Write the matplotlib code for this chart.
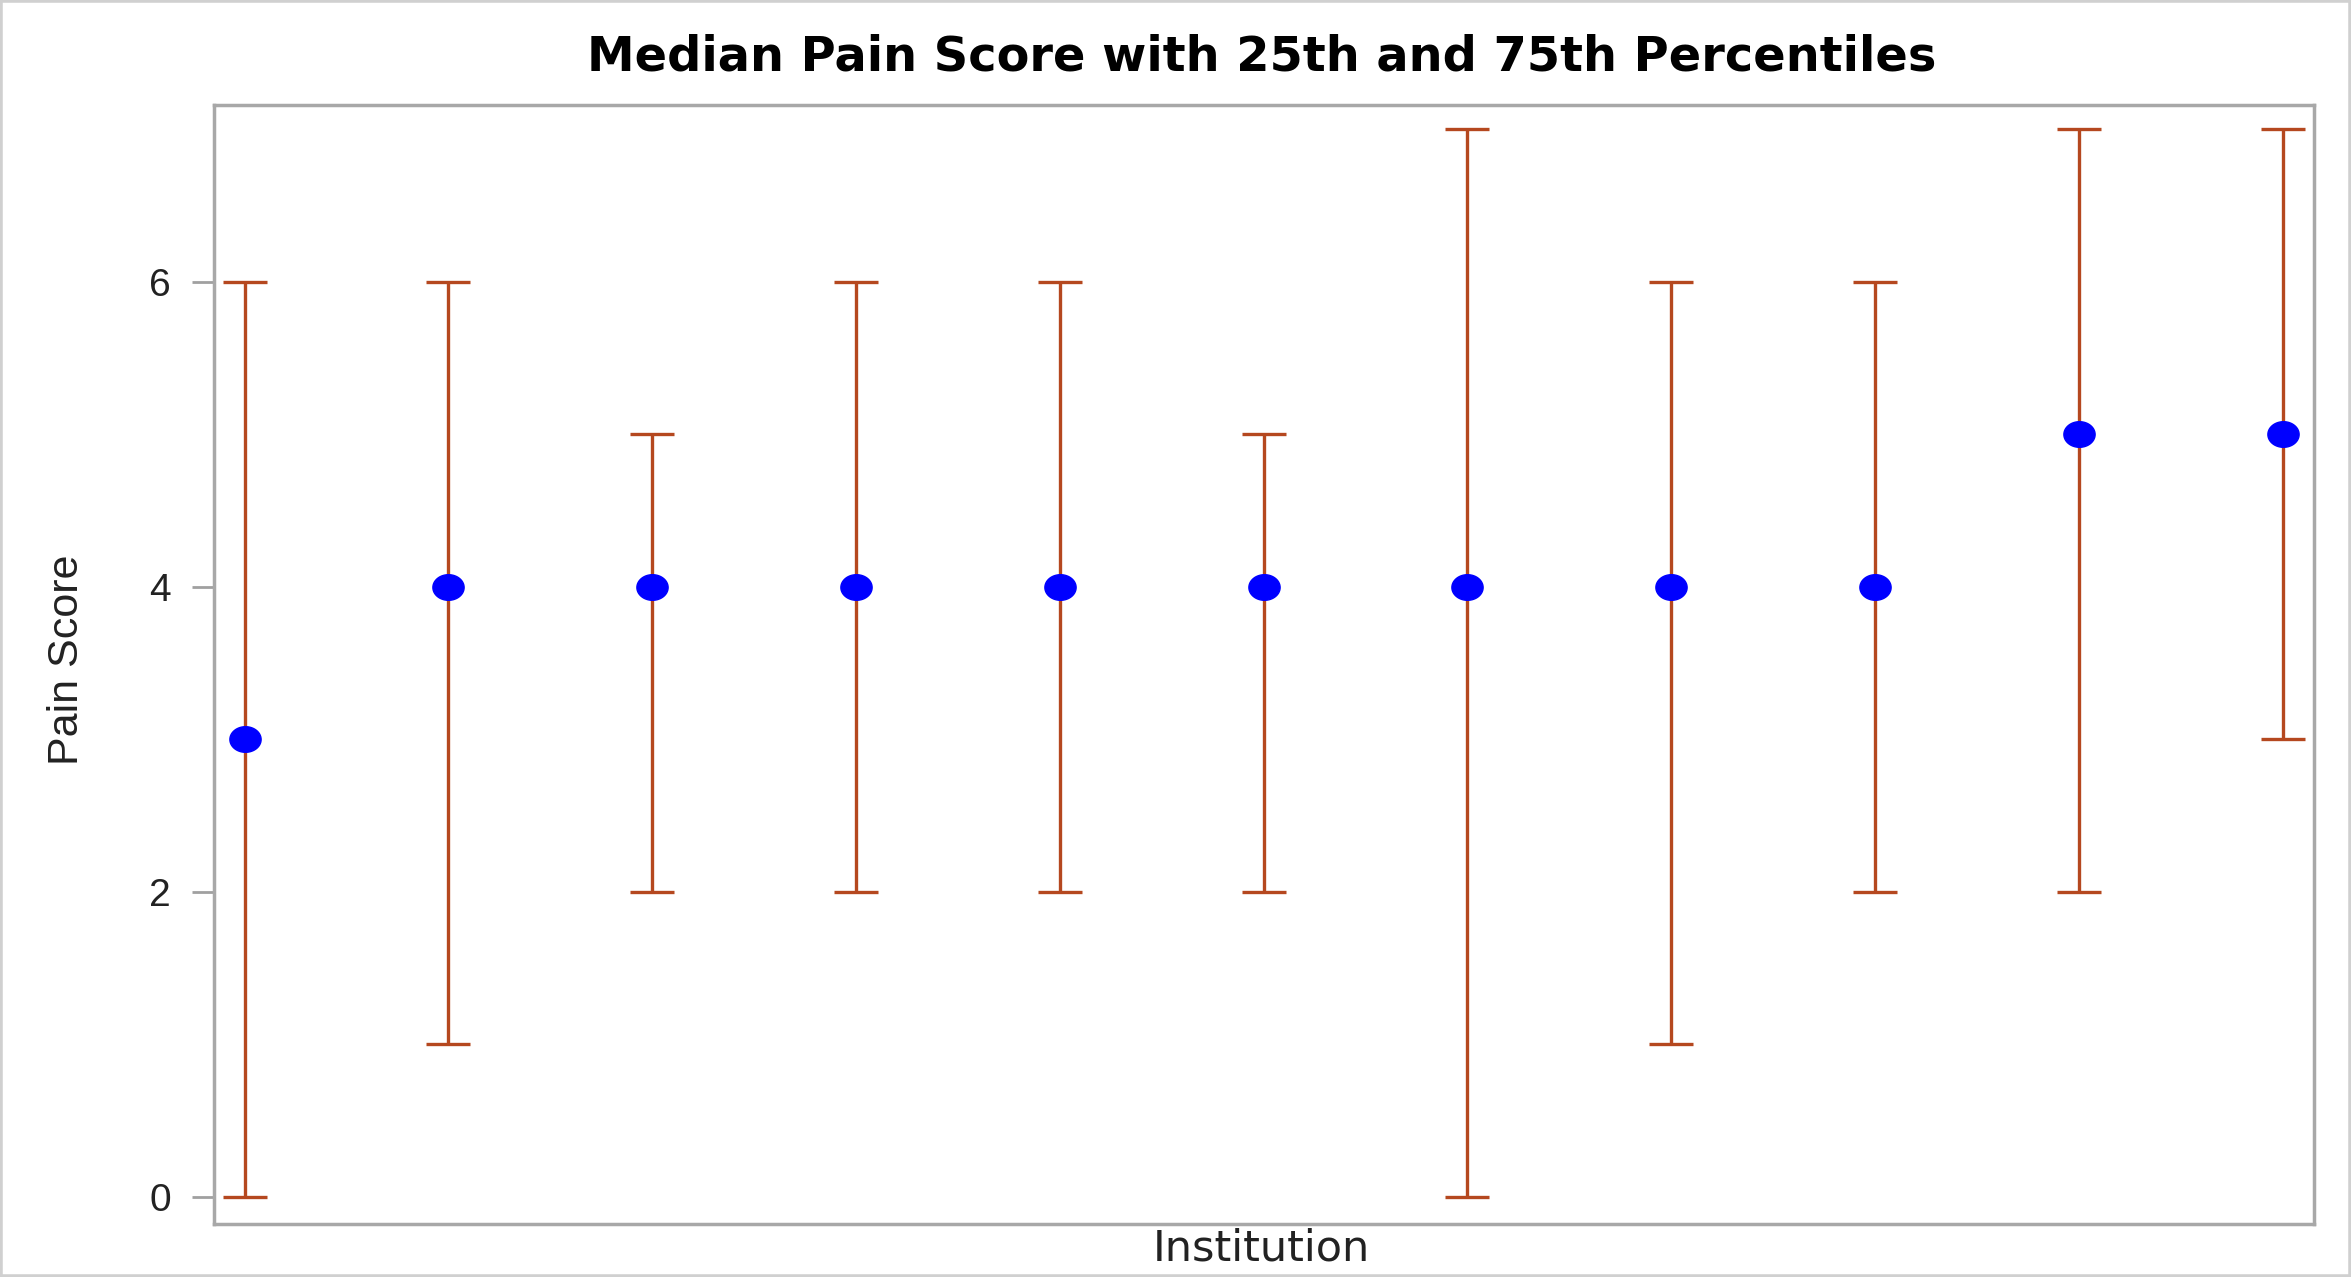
import matplotlib.pyplot as plt
from matplotlib.patches import Rectangle
from matplotlib.path import Path
import numpy as np

# values
institutions = ["1", "2", "3", "4", "5", "6", "7", "8", "9", "10", "11"]
median_score = [3, 4, 4, 4, 4, 4, 4, 4, 4, 5, 5]
p25_score = [0, 1, 2, 2, 2, 2, 0, 1, 2, 2, 3]
p75_score = [6, 6, 5, 6, 6, 5, 7, 6, 6, 7, 7]
y_ticks = [0, 2, 4, 6]

plt.rcParams['font.family'] = ['Liberation Sans', 'DejaVu Sans']

fig = plt.figure(figsize=(23.51, 12.77), dpi=100)
ax = fig.add_axes([0.091, 0.0415, 0.8933, 0.8763])

x = np.arange(len(institutions))
med = np.array(median_score)
lower = med - np.array(p25_score)
upper = np.array(p75_score) - med

# slightly flattened dot, like the SAS marker
t = np.linspace(0, 2 * np.pi, 60)
ellipse = Path(np.column_stack([np.cos(t), 0.82 * np.sin(t)]), closed=True)

ax.errorbar(x, med, yerr=[lower, upper], fmt='none', ecolor='#B5481F',
            elinewidth=2.4, capsize=16, capthick=2.4, zorder=2)
ax.plot(x, med, linestyle='none', marker=ellipse, color='#0000FF',
        markersize=22.5, zorder=3)

ax.set_xlim(-0.15, len(institutions) - 1 + 0.155)
ax.set_ylim(-0.18, 7.16)
ax.set_xticks([])
ax.set_yticks(y_ticks)
ax.tick_params(axis='y', length=16, width=2, color='#A0A0A0', pad=15,
               labelsize=28, labelcolor='#222222')
for s in ax.spines.values():
    s.set_color('#A8A8A8')
    s.set_linewidth(2.5)

fig.text(0.5365, 0.955, "Median Pain Score with 25th and 75th Percentiles",
         ha='center', va='center', fontsize=34.5, fontweight='bold',
         family='DejaVu Sans')
fig.text(0.5365, 0.022, "Institution", ha='center', va='center', fontsize=31,
         color='#222222', family='DejaVu Sans')
fig.text(0.0285, 0.483, "Pain Score", ha='center', va='center', fontsize=31,
         rotation=90, color='#222222')

fig.add_artist(Rectangle((0, 0), 1, 1, transform=fig.transFigure, fill=False,
                         edgecolor='#D0D0D0', linewidth=4))

fig.savefig("out.png", dpi=100)
